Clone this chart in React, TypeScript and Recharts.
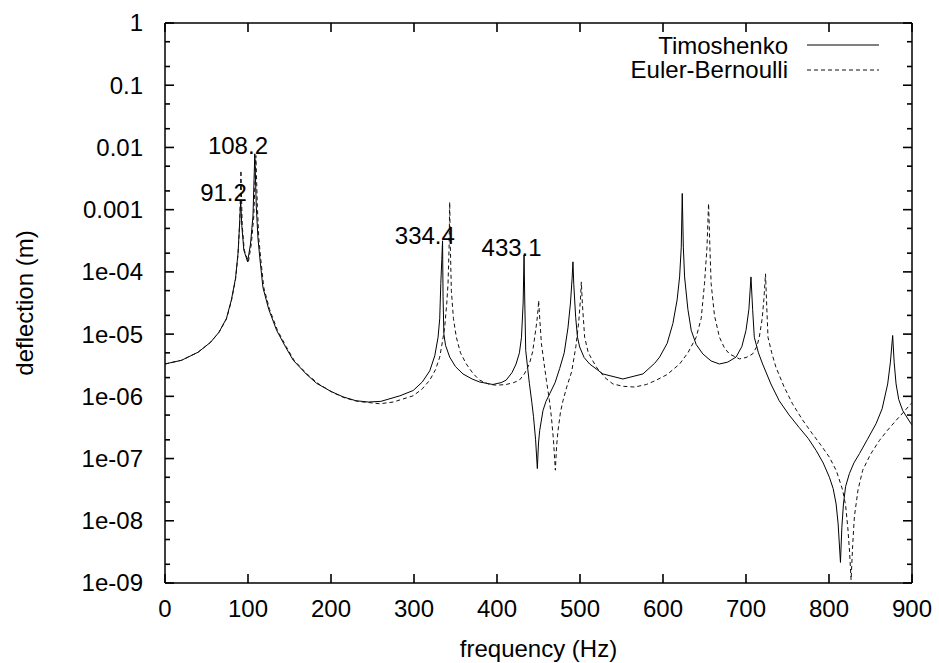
import { LineChart, Line, XAxis, YAxis, ReferenceLine, ReferenceDot } from "recharts";

const FONT = '"Liberation Sans", Arial, Helvetica, sans-serif';

// frequency (Hz), deflection (m)
const timoshenko: [number, number][] = [
  [0, 3.31e-6], [20, 3.8e-6], [40, 5.13e-6], [55, 7.41e-6], [65, 1.07e-5], [74, 1.78e-5],
  [80, 3.55e-5], [85, 7.94e-5], [88, 2.0e-4], [90, 6.3e-4], [91.2, 1.41e-3], [92.5, 5.6e-4],
  [95, 2.24e-4], [99.5, 1.45e-4], [103, 2.8e-4], [106, 7.9e-4], [108.2, 7.9e-3], [110, 1.12e-3],
  [112, 3.5e-4], [114.5, 1.55e-4], [118, 5.6e-5], [125, 2.5e-5], [134.5, 1.15e-5], [145, 6.3e-6],
  [154.5, 3.8e-6], [170, 2.29e-6], [182.6, 1.62e-6], [200, 1.2e-6], [214.6, 9.8e-7], [230, 8.5e-7],
  [245, 8.1e-7], [260, 8.3e-7], [283, 1.02e-6], [299, 1.24e-6], [310, 1.7e-6], [319, 2.57e-6],
  [325, 4.47e-6], [329, 8.9e-6], [331, 1.78e-5], [332.3, 6.5e-5], [333.5, 1.58e-4], [334.4, 3.16e-4],
  [335, 3.98e-5], [336, 1.0e-5], [338, 6.6e-6], [343, 4.27e-6], [350, 3.0e-6], [359, 2.29e-6],
  [370, 1.9e-6], [379, 1.7e-6], [395, 1.55e-6], [405, 1.66e-6], [411, 1.82e-6], [418, 2.4e-6],
  [423, 3.31e-6], [427, 5.0e-6], [429.5, 8.9e-6], [431.5, 3.16e-5], [432.6, 1.86e-4], [433.5, 3.16e-5],
  [434.6, 5.5e-6], [437, 2.8e-6], [439, 1.62e-6], [442, 7.9e-7], [444, 4.7e-7], [446.5, 2.0e-7],
  [448.6, 6.9e-8], [450, 1.78e-7], [451.4, 2.8e-7], [455.4, 5.9e-7], [459, 8.3e-7], [463.5, 1.1e-6],
  [470, 1.66e-6], [475.5, 2.8e-6], [481, 5.0e-6], [485.5, 1.26e-5], [488.5, 3.16e-5], [490.5, 7.9e-5],
  [491.5, 1.45e-4], [492.5, 6.3e-5], [494.8, 1.86e-5], [497, 8.9e-6], [499.6, 6.2e-6], [505, 4.2e-6],
  [511.6, 3.31e-6], [527.6, 2.29e-6], [551.7, 1.9e-6], [575.8, 2.29e-6], [590, 3.4e-6], [595.9, 4.27e-6],
  [605, 7.1e-6], [611.9, 1.48e-5], [617, 3.55e-5], [620, 8.3e-5], [622, 2.5e-4], [623.2, 1.82e-3],
  [624.5, 2.5e-4], [626, 8.3e-5], [630, 2.5e-5], [634, 1.15e-5], [640, 6.8e-6], [648, 4.8e-6],
  [658, 3.7e-6], [668, 3.31e-6], [678, 3.55e-6], [688, 4.27e-6], [695, 6.3e-6], [700, 1.15e-5],
  [703.5, 2.5e-5], [706, 8.3e-5], [708, 2.5e-5], [710, 8.9e-6], [715, 5.0e-6], [720, 3.31e-6],
  [730, 1.58e-6], [740, 8.5e-7], [752, 5.0e-7], [764, 3.16e-7], [775, 2.1e-7], [784.5, 1.35e-7],
  [793, 8.5e-8], [800.5, 5.0e-8], [805, 3.3e-8], [808.6, 1.86e-8], [811, 8.9e-9], [813.8, 2.14e-9],
  [815.5, 7.9e-9], [817.4, 1.86e-8], [820, 3.55e-8], [824.6, 5.75e-8], [830, 8.5e-8], [836.7, 1.2e-7],
  [846, 2.0e-7], [856.7, 3.63e-7], [864, 6.3e-7], [870.7, 1.58e-6], [874, 3.55e-6], [876.7, 9.5e-6],
  [878.5, 3.55e-6], [880.8, 1.58e-6], [884, 8.9e-7], [888.8, 5.9e-7], [898.8, 3.63e-7], [900, 3.47e-7],
];

const eulerBernoulli: [number, number][] = [
  [0, 3.31e-6], [20, 3.8e-6], [40, 5.13e-6], [55, 7.41e-6], [65, 1.07e-5], [74, 1.74e-5],
  [80, 3.4e-5], [85, 7.6e-5], [88, 1.9e-4], [90, 6.3e-4], [91.5, 4.27e-3], [93, 5.6e-4],
  [95.5, 2.24e-4], [100.5, 1.45e-4], [104, 2.8e-4], [107, 7.9e-4], [109.5, 7.4e-3], [111.3, 1.12e-3],
  [113, 3.5e-4], [115.5, 1.55e-4], [119, 5.6e-5], [126, 2.5e-5], [135.5, 1.15e-5], [146, 6.3e-6],
  [155.5, 3.8e-6], [171, 2.29e-6], [184, 1.62e-6], [201, 1.17e-6], [216, 9.5e-7], [232, 8.3e-7],
  [247, 7.9e-7], [259, 7.6e-7], [275, 8.1e-7], [299, 1.02e-6], [310, 1.32e-6], [319, 1.82e-6],
  [326, 2.7e-6], [331, 4.27e-6], [334.5, 7.9e-6], [337, 1.29e-5], [339.5, 3.16e-5], [341, 6.5e-5],
  [342.3, 2.5e-4], [343, 1.32e-3], [343.8, 2.5e-4], [345, 5.0e-5], [347.5, 1.78e-5], [351, 8.9e-6],
  [356, 5.0e-6], [363, 3.31e-6], [371, 2.34e-6], [379, 1.82e-6], [391, 1.55e-6], [400, 1.51e-6],
  [411, 1.55e-6], [420, 1.66e-6], [427, 1.82e-6], [433, 2.29e-6], [439, 3.31e-6], [443, 5.25e-6],
  [445.4, 8.9e-6], [448, 1.58e-5], [449.5, 2.5e-5], [450.2, 3.47e-5], [451, 2.24e-5], [453.5, 7.1e-6],
  [456.5, 3.55e-6], [459.5, 1.82e-6], [463, 8.9e-7], [465.5, 4.7e-7], [468, 2.0e-7], [470.3, 6.5e-8],
  [471.8, 1.58e-7], [473.5, 2.8e-7], [476.5, 5.6e-7], [479.5, 8.5e-7], [484, 1.41e-6], [490, 2.5e-6],
  [495, 6.3e-6], [498.5, 1.58e-5], [500.5, 3.55e-5], [501.6, 6.9e-5], [502.8, 3.16e-5], [505.6, 8.9e-6],
  [510, 5.0e-6], [519.7, 2.95e-6], [530, 2.0e-6], [539.7, 1.58e-6], [552, 1.45e-6], [565.8, 1.41e-6],
  [580, 1.55e-6], [591.9, 1.82e-6], [605, 2.24e-6], [620, 3.31e-6], [630, 5.0e-6], [640, 8.9e-6],
  [646, 1.78e-5], [650, 6.5e-5], [653, 2.5e-4], [654.9, 1.26e-3], [656.5, 2.5e-4], [658, 6.5e-5],
  [662, 2.0e-5], [668, 8.9e-6], [674, 6.0e-6], [680, 4.8e-6], [692, 4.0e-6], [700, 4.2e-6],
  [708, 4.8e-6], [713, 6.3e-6], [716, 8.9e-6], [719.5, 1.78e-5], [721.5, 3.55e-5], [723.5, 9.3e-5],
  [725, 2.8e-5], [726.5, 8.9e-6], [731, 5.0e-6], [736, 2.95e-6], [746, 1.41e-6], [756, 7.6e-7],
  [768, 4.2e-7], [780, 2.5e-7], [790, 1.66e-7], [800.5, 1.05e-7], [809, 6.3e-8], [816.5, 3.1e-8],
  [820, 1.78e-8], [822.6, 7.9e-9], [824.8, 3.16e-9], [826.6, 1.12e-9], [828.5, 4.0e-9], [830.6, 1.17e-8],
  [835, 3.16e-8], [840.6, 6.5e-8], [850, 1.17e-7], [860.7, 1.95e-7], [870, 2.8e-7], [880.8, 4.1e-7],
  [890, 5.6e-7], [898.8, 7.6e-7], [900, 7.9e-7],
];

const xTicks = [0, 100, 200, 300, 400, 500, 600, 700, 800, 900];
const yMajor = [1e-9, 1e-8, 1e-7, 1e-6, 1e-5, 1e-4, 1e-3, 1e-2, 1e-1, 1];
const yLabels = ["1e-09", "1e-08", "1e-07", "1e-06", "1e-05", "1e-04", "0.001", "0.01", "0.1", "1"];
const yMinorSteps = [2, 5];

// peak annotations (label text, placed at frequency / deflection)
const peakNotes = [
  { text: "91.2", f: 70.5, d: 1.85e-3 },
  { text: "108.2", f: 87.9, d: 1.09e-2 },
  { text: "334.4", f: 313.1, d: 3.9e-4 },
  { text: "433.1", f: 417.6, d: 2.5e-4 },
];

const W = 939;
const H = 663;
const PLOT_LEFT = 165;
const PLOT_RIGHT = 912;
const PLOT_TOP = 23;
const PLOT_BOTTOM = 583;
const X_MIN = 0;
const X_MAX = 900;
const Y_MIN = 1e-9;
const Y_MAX = 1;

// tick lengths in px, turned into data units for the inward tick segments
const MAJOR_TICK = 9;
const MINOR_TICK = 5;
const xPerPx = (X_MAX - X_MIN) / (PLOT_RIGHT - PLOT_LEFT);
const decPerPx = Math.log10(Y_MAX / Y_MIN) / (PLOT_BOTTOM - PLOT_TOP);
const shiftY = (v: number, px: number) => v * Math.pow(10, px * decPerPx);

const toRows = (pts: [number, number][]) => pts.map(([x, y]) => ({ x, y }));

const yMinor = yMajor.slice(0, -1).flatMap((m) => yMinorSteps.map((s) => s * m));
const yTickMarks = [...yMajor, ...yMinor];

type Seg = { key: string; w: number; seg: { x: number; y: number }[] };

// top/right frame plus all inward tick marks, drawn as one list of segments
const segments: Seg[] = [
  { key: "frame-top", w: 1.5, seg: [{ x: X_MIN, y: Y_MAX }, { x: X_MAX, y: Y_MAX }] },
  { key: "frame-right", w: 1.5, seg: [{ x: X_MAX, y: Y_MIN }, { x: X_MAX, y: Y_MAX }] },
  ...xTicks.map((t) => ({ key: `xb${t}`, w: 1.6, seg: [{ x: t, y: Y_MIN }, { x: t, y: shiftY(Y_MIN, MAJOR_TICK) }] })),
  ...xTicks.map((t) => ({ key: `xt${t}`, w: 1.6, seg: [{ x: t, y: Y_MAX }, { x: t, y: shiftY(Y_MAX, -MAJOR_TICK) }] })),
  ...yTickMarks.map((v, i) => {
    const len = (i < yMajor.length ? MAJOR_TICK : MINOR_TICK) * xPerPx;
    return { key: `yl${i}`, w: 1.6, seg: [{ x: X_MIN, y: v }, { x: X_MIN + len, y: v }] };
  }),
  ...yTickMarks.map((v, i) => {
    const len = (i < yMajor.length ? MAJOR_TICK : MINOR_TICK) * xPerPx;
    return { key: `yr${i}`, w: 1.6, seg: [{ x: X_MAX, y: v }, { x: X_MAX - len, y: v }] };
  }),
];

function YTick(props: any) {
  const { x, y, payload } = props;
  const idx = yMajor.findIndex((m) => Math.abs(m - payload.value) / m < 1e-6);
  return (
    <text x={x} y={y} dy="0.35em" textAnchor="end" fontSize={24} fontFamily={FONT} fill="#000">
      {yLabels[idx]}
    </text>
  );
}

function XTick(props: any) {
  const { x, y, payload } = props;
  return (
    <text x={x} y={y + 26} dy="0.35em" textAnchor="middle" fontSize={24} fontFamily={FONT} fill="#000">
      {payload.value}
    </text>
  );
}

export default function App() {
  return (
    <div style={{ position: "absolute", left: 0, top: 0, width: W, height: H, background: "#fff" }}>
      <LineChart width={W} height={H} margin={{ top: PLOT_TOP, right: W - PLOT_RIGHT, left: 0, bottom: 0 }}>
        <XAxis
          dataKey="x"
          type="number"
          domain={[X_MIN, X_MAX]}
          ticks={xTicks}
          interval={0}
          height={H - PLOT_BOTTOM}
          tickSize={0}
          tickMargin={0}
          tickLine={false}
          tick={XTick}
          axisLine={{ stroke: "#000", strokeWidth: 1.5 }}
          allowDataOverflow
        />
        <YAxis
          dataKey="y"
          type="number"
          scale="log"
          domain={[Y_MIN, Y_MAX]}
          ticks={yMajor}
          interval={0}
          width={PLOT_LEFT}
          tickSize={0}
          tickMargin={22}
          tickLine={false}
          tick={YTick}
          axisLine={{ stroke: "#000", strokeWidth: 1.5 }}
          allowDataOverflow
        />
        {segments.map((s) => (
          <ReferenceLine key={s.key} stroke="#000" strokeWidth={s.w} ifOverflow="visible" segment={s.seg} />
        ))}
        <Line
          data={toRows(timoshenko)}
          dataKey="y"
          type="linear"
          stroke="#000"
          strokeWidth={1}
          dot={false}
          activeDot={false}
          isAnimationActive={false}
        />
        <Line
          data={toRows(eulerBernoulli)}
          dataKey="y"
          type="linear"
          stroke="#111"
          strokeWidth={1}
          strokeDasharray="4 3"
          dot={false}
          activeDot={false}
          isAnimationActive={false}
        />
        {peakNotes.map((n) => (
          <ReferenceDot
            key={n.text}
            x={n.f}
            y={n.d}
            r={0}
            shape={(p: any) => (
              <text x={p.cx} y={p.cy} dy="0.35em" textAnchor="middle" fontSize={24} fontFamily={FONT} fill="#000">
                {n.text}
              </text>
            )}
          />
        ))}
      </LineChart>
      <svg width={W} height={H} style={{ position: "absolute", left: 0, top: 0, pointerEvents: "none" }}>
        <g fontFamily={FONT} fontSize={24} fill="#000">
          <text x={788} y={46} dy="0.35em" textAnchor="end">Timoshenko</text>
          <line x1={807} x2={879} y1={45} y2={45} stroke="#000" strokeWidth={1} />
          <text x={788} y={70} dy="0.35em" textAnchor="end">Euler-Bernoulli</text>
          <line x1={807} x2={879} y1={70} y2={70} stroke="#111" strokeWidth={1} strokeDasharray="4 3" />
          <text x={(PLOT_LEFT + PLOT_RIGHT) / 2} y={657} textAnchor="middle">frequency (Hz)</text>
          <text x={33} y={(PLOT_TOP + PLOT_BOTTOM) / 2} textAnchor="middle" transform={`rotate(-90 33 ${(PLOT_TOP + PLOT_BOTTOM) / 2})`}>
            deflection (m)
          </text>
        </g>
      </svg>
    </div>
  );
}
